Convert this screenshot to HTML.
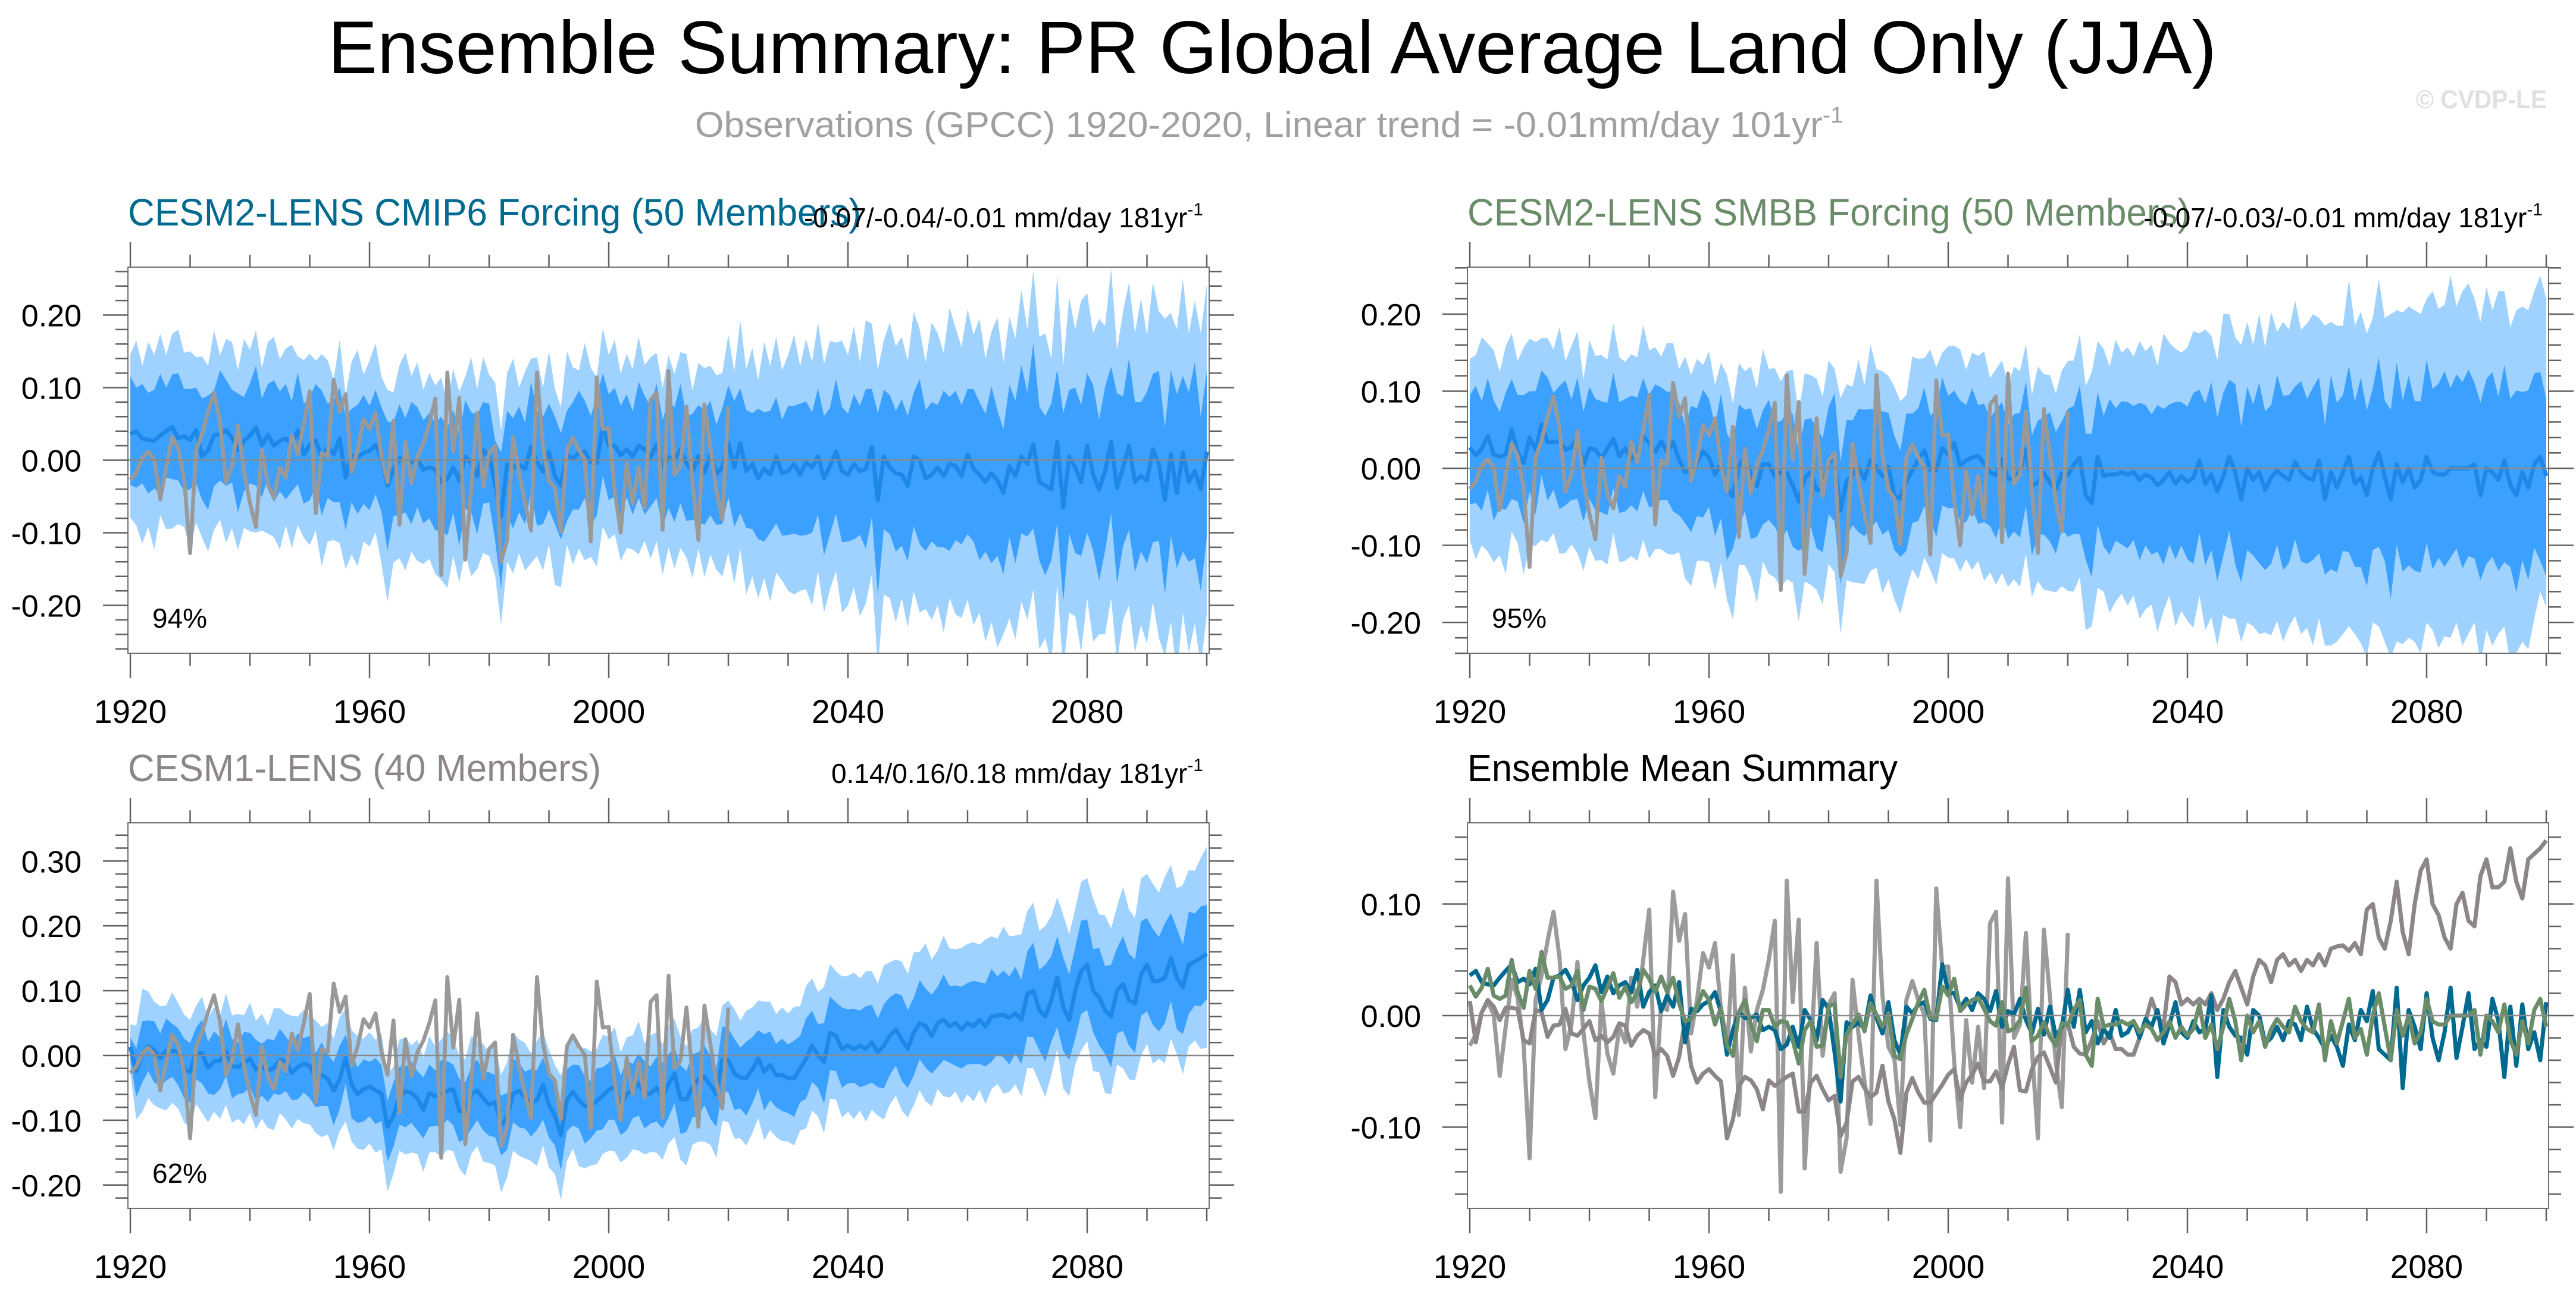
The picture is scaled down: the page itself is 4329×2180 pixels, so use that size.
<!DOCTYPE html>
<html><head><meta charset="utf-8"><style>
html,body{margin:0;padding:0;background:#fff;}
svg{display:block;font-family:"Liberation Sans",Arial,sans-serif;}
</style></head><body>
<svg id="fig" xmlns="http://www.w3.org/2000/svg" width="4329" height="2180" viewBox="0 0 4329 2180">
<defs id="defs"></defs>
<rect width="4329" height="2180" fill="#fff"/>
<text x="551" y="123" font-size="125" textLength="3174" lengthAdjust="spacingAndGlyphs" fill="#000">Ensemble Summary: PR Global Average Land Only (JJA)</text>
<text x="1168" y="230" font-size="60" fill="#a0a0a0" textLength="1930" lengthAdjust="spacingAndGlyphs">Observations (GPCC) 1920-2020, Linear trend = -0.01mm/day 101yr<tspan dy="-24" font-size="38">-1</tspan></text>
<text x="4060" y="182" font-size="44" font-weight="bold" fill="#e0e0e0" textLength="220" lengthAdjust="spacingAndGlyphs">© CVDP-LE</text>
<g id="panels"></g>
</svg>
<script>
// ===== data (thousandths of mm/day), years 1920..2100 =====
const years = [];
for (let y = 1920; y <= 2100; y++) years.push(y);
const obsYears = years.slice(0, 101);
const xTickLabels = ["1920","1960","2000","2040","2080"];

const obs = [-27,-17,3,12,1,-54,-10,32,16,-26,
-128,14,36,67,93,52,-30,-8,48,-15,
-59,-92,14,-34,-52,-10,-24,34,8,50,
95,-73,10,5,111,67,91,-16,14,56,
43,65,5,-30,54,-89,25,-32,5,23,
50,85,-158,121,12,86,-137,-40,65,-36,
10,20,-140,-110,32,-17,-59,-97,121,18,
-28,-39,-98,14,31,14,1,-112,114,43,
44,-42,-100,-4,-60,-10,-65,83,93,-96,
123,-20,-8,74,-30,-110,77,18,-42,-82,74];

const meanCMIP6 = [36,40,30,28,27,34,40,46,30,33,
28,42,5,14,34,36,41,31,14,27,
34,45,21,35,20,27,30,21,41,8,
21,27,4,18,8,30,-24,6,4,10,
13,21,3,-35,-13,3,-2,-2,1,-13,
-10,-13,-30,-26,-10,-28,5,-4,-22,14,
6,-33,-77,-6,-10,-6,-12,18,-2,-16,
12,-22,-35,8,2,10,12,-3,-4,46,
21,20,7,15,5,20,15,4,22,-10,
4,1,15,-4,-16,6,-17,8,-19,-10,
23,-10,23,-15,-5,-25,-12,-20,5,-18,
-15,-5,-20,-3,-10,5,-25,-8,12,-15,
-20,-5,-15,-12,18,-55,5,-10,-18,-20,
-35,5,0,-25,-20,-10,-22,-5,-8,-22,
8,-12,-20,-30,-18,-28,-45,-8,-22,5,
-5,22,-30,-35,-40,25,-65,5,-10,-30,
20,-20,-40,-15,25,-38,-10,20,-30,-22,
-28,15,-5,-55,8,-45,10,-30,-15,-40,12];

const meanSMBB = [27,17,25,42,18,15,18,50,21,7,
40,24,57,34,34,35,24,27,40,5,
26,24,13,25,38,16,26,12,20,41,
33,21,35,21,34,11,-5,-3,8,22,
14,-8,7,-27,-36,3,14,-8,-23,5,
5,-10,-5,-6,-22,-43,-13,-5,-28,-27,
8,11,-55,-17,-8,1,-14,11,1,-10,
2,-36,-39,-17,-3,12,23,-2,-3,26,
18,33,4,10,14,16,6,-5,-9,12,
-14,-12,-4,25,-23,-18,-6,-19,-27,-7,
-9,5,14,-35,-45,15,-10,-8,-8,-5,
-8,-5,-15,-8,-12,-22,-15,-5,-20,-10,
-18,-12,10,-20,-8,-30,-10,15,-5,-40,
0,-15,-5,-28,-12,-3,-10,-15,8,-5,
-12,-15,10,-40,-5,-25,-5,15,-20,-12,
-35,0,20,-10,-40,5,-18,0,-25,-15,
15,-5,-8,-8,0,0,0,0,5,-35,
0,-5,-15,10,-22,-35,-5,-25,5,15,-10];

const meanCESM1 = [13,-24,3,14,8,-4,7,7,6,-22,
-25,5,3,-19,-9,-8,6,-16,-18,-12,
-5,-22,-18,-24,-19,-7,-9,-27,-18,-13,
-16,-36,-30,-36,-54,-37,-4,-45,-60,-52,
-48,-54,-59,-110,-93,-63,-55,-58,-66,-84,
-58,-63,-59,-55,-52,-86,-86,-60,-54,-66,
-76,-72,-108,-96,-59,-55,-65,-73,-69,-45,
-77,-93,-123,-69,-56,-69,-78,-78,-70,-62,
-53,-48,-75,-60,-53,-43,-59,-59,-50,-65,
-44,-28,-67,-68,-48,-37,-33,-46,-60,-7,
-7,-28,-34,-35,-22,-5,-25,-15,-30,-30,
-35,-35,-20,-5,15,0,-10,35,30,10,
15,10,15,10,20,5,15,30,40,25,
10,35,50,45,30,50,55,45,50,40,
50,45,55,45,60,62,63,58,65,55,
95,100,70,60,85,120,75,55,100,130,
140,100,90,70,60,100,110,85,80,125,
140,115,115,120,150,120,105,140,145,150,157];

// spreads relative to ensemble mean (thousandths)
const cmip6InnerUp = [80,60,75,65,70,85,60,72,90,65,70,58,80,75,62,88,70,66,78,60,72,85,64,70,90,68,75,60,80,70,66,78,92,60,74,70,85,65,72,80,62,76,70,88,66,74,60,82,72,68,75,64,90,70,80,62,78,70,85,66,72,60,88,74,68,80,64,90,70,76,66,82,72,60,78,86,70,64,92,74,70,80,68,76,62,88,74,70,84,66,78,72,90,64,80,70,86,74,68,82,80,92,76,84,70,96,78,88,82,74,90,80,98,84,76,94,86,80,100,88,84,96,90,110,80,120,92,100,86,104,96,88,112,94,100,86,118,92,104,98,90,110,100,94,120,96,88,112,104,126,98,140,104,96,118,100,130,92,110,106,100,124,96,116,104,130,98,120,110,102,122,104,128,100,116,136,106,124,150,100,110];
const cmip6InnerDn = [70,78,62,74,66,80,64,72,58,76,68,74,60,82,70,64,76,62,86,70,66,80,72,60,78,70,84,64,74,68,76,62,80,70,66,88,72,64,78,70,82,68,74,90,64,78,70,86,66,74,70,84,66,78,62,90,72,68,80,74,64,78,100,70,84,66,76,62,88,72,80,66,74,92,70,78,64,86,72,68,76,70,84,66,80,72,90,68,74,82,70,86,74,80,66,92,72,84,70,78,74,82,96,78,90,84,100,80,92,86,88,96,84,100,90,80,106,94,86,98,92,104,88,110,96,130,100,92,108,98,104,96,116,100,92,110,98,120,102,94,110,100,118,96,124,104,112,98,120,106,100,116,108,124,98,112,130,106,118,102,120,104,126,110,98,132,108,116,124,104,114,128,106,130,112,104,136,110,120,140,118];
const cmip6OuterUp = [110,125,100,135,118,140,105,128,150,115,122,100,138,116,145,108,126,132,110,140,118,134,106,128,150,112,124,138,102,130,126,110,142,120,104,136,114,130,148,108,124,140,112,132,106,128,150,118,134,110,130,116,144,104,136,122,110,146,120,128,112,140,118,126,150,106,134,122,144,116,138,120,108,142,126,114,150,130,118,136,124,146,112,132,120,150,116,138,126,110,140,118,134,150,112,128,144,122,136,130,150,132,170,140,160,135,175,150,165,142,160,178,150,170,145,185,158,172,150,180,165,190,150,205,170,180,160,200,175,190,172,200,180,160,210,185,170,215,190,178,200,185,215,170,195,225,180,205,190,230,185,240,200,210,180,230,195,220,190,250,210,195,235,200,240,190,215,225,205,245,200,230,210,250,195,225,240,205,235,215,230];
const cmip6OuterDn = [115,130,145,120,150,110,135,140,118,125,150,128,112,140,130,118,155,125,138,120,132,145,118,136,126,150,120,142,130,115,138,124,150,130,118,144,126,136,150,122,132,120,146,160,128,138,150,124,140,130,126,144,135,150,122,140,132,156,128,142,138,126,150,134,146,122,140,160,130,136,128,150,140,124,146,132,150,130,142,138,130,122,146,136,128,150,126,140,134,148,124,150,136,130,146,128,144,138,132,150,150,160,145,170,155,165,150,175,160,148,165,180,160,175,190,158,185,170,165,195,180,170,200,185,175,230,190,180,205,170,195,185,210,180,200,190,215,185,205,195,200,215,190,220,205,230,195,210,225,200,215,200,230,210,240,195,225,215,205,235,210,230,200,225,215,240,210,220,235,205,225,210,240,215,230,250,220,235,210,245,225];

const smbbInnerUp = [68,90,62,75,70,58,80,66,74,88,60,76,70,84,64,72,90,62,78,68,80,66,74,60,86,70,64,82,72,76,62,88,70,78,66,74,60,84,70,80,76,64,90,72,68,80,62,86,74,70,84,70,66,78,92,64,76,70,82,66,72,86,64,80,70,76,90,66,74,84,70,78,62,88,74,66,82,70,80,92,76,68,84,72,90,66,78,70,86,74,70,82,76,88,66,80,72,92,74,68,86,76,94,80,90,84,78,98,86,92,94,86,100,90,82,104,92,88,106,96,98,110,92,104,120,96,108,100,114,94,106,98,116,102,94,124,104,110,98,118,102,120,108,96,126,110,100,118,106,130,110,104,124,98,116,132,106,120,112,102,126,108,118,134,104,122,112,128,106,120,116,130,108,124,112,136,104,126,118,110,100];
const smbbInnerDn = [74,62,80,70,86,66,72,90,64,78,70,84,66,76,62,88,72,68,80,74,66,78,70,86,64,74,82,60,76,70,84,68,76,62,90,72,66,80,70,86,64,80,72,92,68,76,70,84,66,78,72,66,88,74,80,64,90,70,76,82,68,80,96,72,66,84,74,88,70,76,82,70,76,90,68,80,72,64,86,74,70,84,72,80,66,88,76,70,82,74,78,70,86,74,90,68,80,76,84,72,80,90,100,84,96,88,92,104,86,94,96,88,104,92,100,86,110,94,98,90,100,112,94,106,98,116,104,96,120,108,106,98,118,104,112,96,122,108,100,116,112,104,120,98,126,110,102,124,108,116,118,106,122,110,130,104,116,126,108,120,112,126,108,120,116,104,130,114,122,110,124,110,118,132,106,126,114,120,108,135,130];
const smbbOuterUp = [115,130,145,120,135,110,140,125,118,150,128,140,112,135,120,148,115,132,138,110,140,122,134,116,150,128,112,136,124,145,120,136,110,142,128,118,150,124,134,112,138,116,130,148,120,134,112,140,126,150,124,140,118,132,150,114,136,126,144,120,132,118,146,126,114,140,122,150,128,136,118,142,126,112,148,130,120,156,134,124,140,126,150,118,136,130,146,122,138,128,122,144,130,136,118,150,128,140,124,134,148,135,160,142,170,150,165,140,175,155,165,150,180,160,172,155,190,168,175,160,175,190,165,200,180,170,210,185,175,200,190,175,205,185,215,180,200,195,210,185,200,215,185,225,195,210,190,230,205,215,210,195,225,205,240,200,220,210,230,215,205,235,215,220,250,210,230,240,215,225,235,210,245,220,205,240,215,230,225,235,230];
const smbbOuterDn = [120,135,125,150,140,128,155,132,118,145,140,125,150,130,118,146,134,126,150,138,128,144,132,150,122,138,146,126,140,134,150,126,140,132,146,120,138,150,128,142,136,150,130,144,160,128,140,134,152,126,142,132,150,138,126,156,134,146,130,150,132,146,160,128,140,150,136,144,130,152,146,134,150,140,128,156,138,130,148,136,134,150,138,128,146,136,152,130,142,148,140,132,150,136,144,128,152,140,134,146,150,165,155,175,160,170,150,180,165,158,170,160,180,175,165,190,170,160,185,175,180,195,175,190,185,200,180,210,190,185,200,190,210,185,205,195,215,190,200,210,195,215,205,190,225,200,210,220,195,215,210,200,225,215,205,230,210,220,200,225,215,205,225,210,220,200,230,215,205,220,210,225,200,215,230,205,220,210,200,175,170];

const cesm1InnerUp = [15,35,50,40,45,38,50,42,36,48,44,38,52,40,46,36,50,42,38,48,40,46,36,50,42,48,38,44,52,40,46,40,50,38,44,52,36,48,42,46,38,50,44,40,52,46,38,48,42,50,44,40,52,46,38,50,44,42,48,40,50,42,46,38,54,44,40,52,46,42,44,50,40,48,42,54,46,38,50,44,42,48,44,52,40,46,50,42,48,54,46,40,52,44,50,42,48,46,40,52,48,54,46,56,50,44,58,52,48,56,52,58,50,62,54,48,60,56,52,64,56,62,54,66,58,52,64,60,56,68,60,54,66,58,64,56,70,62,58,66,62,70,58,66,74,60,68,64,72,62,66,74,62,80,68,64,76,70,66,78,70,64,76,68,80,66,74,72,68,82,72,80,68,84,70,76,66,82,74,80,75];
const cesm1InnerDn = [20,40,45,38,50,42,46,40,52,44,48,42,46,40,52,44,38,50,42,46,42,50,44,48,40,54,46,42,50,44,50,44,48,42,54,46,40,52,44,50,46,52,42,54,48,44,56,46,50,44,52,46,50,44,56,48,42,54,46,50,48,54,46,50,44,56,48,52,46,54,50,46,54,48,52,44,58,50,46,52,46,52,48,56,44,50,54,46,52,48,52,46,54,50,48,56,44,52,50,46,50,56,48,58,52,46,60,54,50,56,54,60,52,62,56,50,64,58,54,60,58,52,64,56,62,54,66,60,56,64,60,66,56,64,58,68,62,56,66,60,64,58,68,62,70,60,66,72,62,68,66,72,62,70,64,76,68,62,74,66,70,64,74,68,78,66,72,70,76,64,72,68,78,70,66,80,72,76,68,74,70];
const cesm1OuterUp = [35,70,100,85,75,80,70,90,75,85,80,72,88,76,84,70,90,78,82,74,86,76,82,70,92,80,74,88,78,84,78,90,74,86,80,96,76,84,90,78,84,78,92,80,76,88,82,74,90,80,88,76,84,92,78,86,80,90,76,84,80,90,78,86,94,80,84,76,92,82,86,78,92,80,88,76,90,84,80,94,82,92,80,88,84,96,78,90,86,82,90,84,96,82,88,80,94,86,90,84,92,100,88,104,96,90,108,98,94,104,100,110,96,112,104,98,116,106,100,112,108,118,104,120,110,106,124,114,108,120,116,124,110,128,118,112,130,120,114,126,122,130,116,134,124,118,136,126,120,132,128,136,122,140,130,124,142,132,126,138,134,142,128,146,136,130,150,140,132,148,140,150,136,156,144,138,158,146,140,155,165];
const cesm1OuterDn = [40,75,90,80,85,78,92,80,88,82,86,80,92,84,78,90,82,88,80,94,84,92,80,88,96,82,90,86,80,92,90,84,96,86,92,80,98,88,84,94,88,96,86,100,90,84,98,92,86,96,92,86,98,90,96,88,100,92,86,98,90,98,104,92,88,100,94,90,102,94,96,90,100,94,88,102,96,92,98,90,94,100,90,98,92,104,94,90,100,96,92,98,94,102,90,96,100,92,98,94,96,100,94,104,98,92,106,100,96,102,98,104,96,108,100,94,110,102,98,106,102,108,100,112,104,98,114,106,102,110,106,112,104,116,108,102,118,110,106,114,110,116,108,120,112,106,122,114,110,118,114,120,112,124,116,110,126,118,114,122,118,124,116,128,120,114,130,122,118,126,122,128,120,132,124,118,134,126,122,140,145];

// ===== drawing =====
const NS = "http://www.w3.org/2000/svg";
const root = document.getElementById("panels");
const defs = document.getElementById("defs");
function mk(tag, attrs, parent) {
  const e = document.createElementNS(NS, tag);
  for (const k in attrs) e.setAttribute(k, attrs[k]);
  (parent || root).appendChild(e);
  return e;
}
const C = {outer:"#a0d2ff", inner:"#3ca0ff", mean:"#1e88e8", obs:"#999999",
  teal:"#00698f", green:"#6a8c69", cesm1:"#8c8589"};
let clipCount = 0;

function makePanel(p) {
  const g = mk("g", {});
  
  
  const xS = yr => p.x0 + (yr - 1919.6) / (2100.4 - 1919.6) * (p.x1 - p.x0);
  const yS = v => p.y1 - (v - p.yMin) / (p.yMax - p.yMin) * (p.y1 - p.y0);
  p.xS = xS; p.yS = yS; p.g = g;
  const cid = "clip" + (clipCount++);
  const cp = mk("clipPath", {id: cid}, defs);
  mk("rect", {x:p.x0, y:p.y0, width:p.x1-p.x0, height:p.y1-p.y0}, cp);
  const area = mk("g", {"clip-path": "url(#" + cid + ")"}, g);
  
  
  p.area = area;
  return p;
}
function finishPanel(p) {
  const g = p.g, xS = p.xS, yS = p.yS;
  const z = mk("line", {x1:p.x0, x2:p.x1, y1:yS(0), y2:yS(0), stroke:"#8a8a8a", "stroke-width":2.5}, g);
  
  
  const fr = mk("rect", {x:p.x0, y:p.y0, width:p.x1-p.x0, height:p.y1-p.y0, fill:"none", stroke:"#707070", "stroke-width":2}, g);
  
  
  const xa = mk("g", {stroke:"#606060", "stroke-width":2.5}, g);
  
  
  for (let yr = 1920; yr <= 2100; yr += 10) {
    const major = (yr - 1920) % 40 === 0;
    const L = major ? 42 : 21, x = xS(yr);
    mk("line", {x1:x, x2:x, y1:p.y1, y2:p.y1 + L}, xa);
    mk("line", {x1:x, x2:x, y1:p.y0, y2:p.y0 - L}, xa);
  }
  const xl = mk("g", {"font-size":55, "text-anchor":"middle", fill:"#000"}, g);
  
  
  xTickLabels.forEach(t => {
    const tx = mk("text", {x:xS(+t), y:p.y1 + 117}, xl);
    
    
    tx.textContent = t;
  });
  const ya = mk("g", {stroke:"#606060", "stroke-width":2.5}, g);
  
  
  const yl = mk("g", {"font-size":52, "text-anchor":"end", fill:"#000"}, g);
  
  
  for (let k = Math.ceil(p.yMin * 50); k <= Math.floor(p.yMax * 50); k++) {
    const v = k / 50, y = yS(v);
    const major = k % 5 === 0;
    const L = major ? 42 : 21;
    mk("line", {x1:p.x0, x2:p.x0 - L, y1:y, y2:y}, ya);
    mk("line", {x1:p.x1, x2:p.x1 + L, y1:y, y2:y}, ya);
    if (major) {
      const tx = mk("text", {x:p.x0 - 78, y:y + 19}, yl);
      
      
      tx.textContent = v.toFixed(2);
    }
  }
  const t1 = mk("text", {x:p.x0, y:p.ty, "font-size":64, fill:p.tcolor, textLength:p.tlen, lengthAdjust:"spacingAndGlyphs"}, g);
  
  
  t1.textContent = p.title;
  if (p.trend) {
    const t2 = mk("text", {x:p.x1 - 10, y:p.ty + 3, "font-size":46, fill:"#000", "text-anchor":"end"}, g);
    
    
    t2.textContent = p.trend;
    const sp = mk("tspan", {dy:-20, "font-size":30}, t2);
    sp.textContent = "-1";
  }
  if (p.pct) {
    const t3 = mk("text", {x:p.x0 + p.pctdx, y:p.y1 - 43, "font-size":46, fill:"#000"}, g);
    
    
    t3.textContent = p.pct;
  }
}
function band(p, mean, up, dn, color, name) {
  let d = "";
  years.forEach((yr, i) => { d += (i ? "L" : "M") + p.xS(yr).toFixed(1) + "," + p.yS((mean[i] + up[i]) / 1000).toFixed(1); });
  for (let i = years.length - 1; i >= 0; i--) d += "L" + p.xS(years[i]).toFixed(1) + "," + p.yS((mean[i] - dn[i]) / 1000).toFixed(1);
  const e = mk("path", {d: d + "Z", fill: color}, p.area);
  
  
}
function line(p, xs, vals, color, w, name) {
  let d = "";
  xs.forEach((yr, i) => { d += (i ? "L" : "M") + p.xS(yr).toFixed(1) + "," + p.yS(vals[i] / 1000).toFixed(1); });
  const e = mk("path", {d, fill:"none", stroke:color, "stroke-width":w, "stroke-linejoin":"round"}, p.area);
  
  
}
function ensemblePanel(cfg, mean, iu, idn, ou, od) {
  const p = makePanel(cfg);
  band(p, mean, ou, od, C.outer, 'ensemble-range-band');
  band(p, mean, iu, idn, C.inner, 'ensemble-10-90-band');
  line(p, years, mean, C.mean, 7, 'ensemble-mean-line');
  line(p, obsYears, obs, C.obs, 6.5, 'observations-line');
  finishPanel(p);
}

ensemblePanel({name:'panel-cesm2-cmip6', x0:215, x1:2032, y0:449, y1:1098, yMin:-0.266, yMax:0.266,
  title:"CESM2-LENS CMIP6 Forcing (50 Members)", tcolor:C.teal, tlen:1232, ty:379,
  trend:"-0.07/-0.04/-0.01 mm/day 181yr", pct:"94%", pctdx:41},
  meanCMIP6, cmip6InnerUp, cmip6InnerDn, cmip6OuterUp, cmip6OuterDn);

ensemblePanel({name:'panel-cesm2-smbb', x0:2466, x1:4283, y0:449, y1:1098, yMin:-0.240, yMax:0.261,
  title:"CESM2-LENS SMBB Forcing (50 Members)", tcolor:C.green, tlen:1214, ty:379,
  trend:"-0.07/-0.03/-0.01 mm/day 181yr", pct:"95%", pctdx:41},
  meanSMBB, smbbInnerUp, smbbInnerDn, smbbOuterUp, smbbOuterDn);

ensemblePanel({name:'panel-cesm1-lens', x0:215, x1:2032, y0:1383, y1:2031, yMin:-0.236, yMax:0.359,
  title:"CESM1-LENS (40 Members)", tcolor:C.cesm1, tlen:795, ty:1313,
  trend:"0.14/0.16/0.18 mm/day 181yr", pct:"62%", pctdx:41},
  meanCESM1, cesm1InnerUp, cesm1InnerDn, cesm1OuterUp, cesm1OuterDn);

(function(){
  const p = makePanel({name:'panel-ensemble-mean-summary', x0:2466, x1:4283, y0:1383, y1:2031, yMin:-0.1728, yMax:0.1728,
    title:"Ensemble Mean Summary", tcolor:"#000", tlen:723, ty:1313});
  line(p, obsYears, obs, "#9b9b9b", 7, 'observations-line');
  line(p, years, meanCESM1, C.cesm1, 7, 'cesm1-mean-line');
  line(p, years, meanCMIP6, C.teal, 7, 'cesm2-cmip6-mean-line');
  line(p, years, meanSMBB, C.green, 7, 'cesm2-smbb-mean-line');
  finishPanel(p);
})();
</script>
</body></html>
